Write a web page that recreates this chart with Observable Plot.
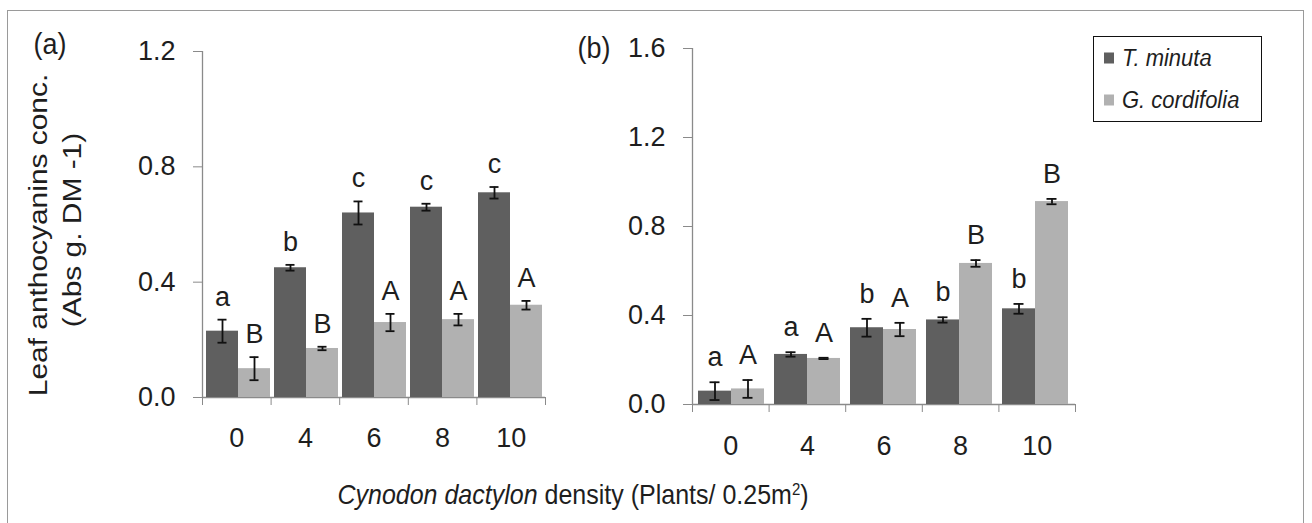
<!DOCTYPE html>
<html><head><meta charset="utf-8">
<script src="https://cdn.jsdelivr.net/npm/d3@7"></script>
<script src="https://cdn.jsdelivr.net/npm/@observablehq/plot@0.6"></script>
<style>
html,body{margin:0;padding:0;overflow:hidden;background:#fff;}
body{width:1312px;height:523px;position:relative;font-family:"Liberation Sans",Arial,sans-serif;color:#1e1e1e;}
#frame{position:absolute;left:7px;top:10px;width:1297px;height:560px;border:1px solid #9a9a9a;box-sizing:border-box;}
.abs{position:absolute;}
.ctr{position:absolute;white-space:nowrap;}
#legend{position:absolute;left:1093px;top:36px;width:169px;height:86px;border:1.5px solid #111;box-sizing:border-box;background:#fff;font-size:22px;font-style:italic;}
#legend .item{position:absolute;left:10px;display:flex;align-items:center;gap:8px;white-space:nowrap;transform:scaleY(1.1);transform-origin:left center;}
#legend .sw{width:10px;height:10px;display:inline-block;}
</style></head><body>
<div id="frame"></div>
<div id="pa-axes" class="abs" style="left:0;top:0"></div>
<div id="pa-bars" class="abs" style="left:0;top:0"></div>
<div id="pb-axes" class="abs" style="left:560px;top:0"></div>
<div id="pb-bars" class="abs" style="left:560px;top:0"></div>
<div id="texts"></div>
<div id="legend"></div>
<script>
// ---- data ----
const densities = ["0", "4", "6", "8", "10"];          // x tick labels
const seriesNames = ["T. minuta", "G. cordifolia"];
const barColors = ["#5f5f5f", "#b1b1b1"];

// panel (a)
const aTminuta      = [0.23, 0.45, 0.64, 0.66, 0.71];
const aTminutaErr   = [0.04, 0.01, 0.04, 0.012, 0.02];
const aTminutaLet   = ["a", "b", "c", "c", "c"];
const aGcord        = [0.10, 0.17, 0.26, 0.27, 0.32];
const aGcordErr     = [0.04, 0.006, 0.03, 0.02, 0.015];
const aGcordLet     = ["B", "B", "A", "A", "A"];
const aYTicks       = [0, 0.4, 0.8, 1.2];

// panel (b)
const bTminuta      = [0.06, 0.225, 0.345, 0.38, 0.43];
const bTminutaErr   = [0.04, 0.01, 0.04, 0.012, 0.022];
const bTminutaLet   = ["a", "a", "b", "b", "b"];
const bGcord        = [0.07, 0.207, 0.337, 0.634, 0.912];
const bGcordErr     = [0.04, 0.003, 0.03, 0.015, 0.012];
const bGcordLet     = ["A", "A", "A", "B", "B"];
const bYTicks       = [0, 0.4, 0.8, 1.2, 1.6];

const yTitle1 = "Leaf anthocyanins conc.";
const yTitle2 = "(Abs g. DM -1)";

// ---- helpers ----
const FONT = "'Liberation Sans', Arial, sans-serif";
const AXIS = "#8a8a8a";
const INK = "#1e1e1e";
const FS = 27;

function rowsFor(tv, te, tl, gv, ge, gl) {
  const rows = [];
  densities.forEach((d, i) => {
    rows.push({density: d, series: seriesNames[0], value: tv[i], err: te[i], letter: tl[i]});
    rows.push({density: d, series: seriesNames[1], value: gv[i], err: ge[i], letter: gl[i]});
  });
  return rows;
}
const hi = d => d.value + d.err;
const lo = d => d.value - d.err;

function dims(c) {
  return {width: c.width, height: c.height, marginLeft: c.ml, marginRight: c.mr, marginTop: c.mt, marginBottom: c.mb};
}

function barsPlot(c) {
  return Plot.plot({
    ...dims(c),
    style: {background: "transparent", fontFamily: FONT, fontSize: FS + "px", color: INK, overflow: "visible"},
    fx: {domain: densities, paddingInner: c.pad, paddingOuter: c.pad / 2, axis: null, label: null},
    x: {domain: seriesNames, padding: 0, axis: null},
    y: {domain: [0, c.yMax], axis: null},
    color: {domain: seriesNames, range: barColors},
    marks: [
      Plot.barY(c.rows, {fx: "density", x: "series", y: "value", fill: "series"}),
      Plot.ruleX(c.rows, {fx: "density", x: "series", y1: lo, y2: hi, stroke: "#111", strokeWidth: 1.8}),
      Plot.tickY(c.rows, {fx: "density", x: "series", y: hi, insetLeft: c.cap, insetRight: c.cap, stroke: "#111", strokeWidth: 1.8}),
      Plot.tickY(c.rows, {fx: "density", x: "series", y: lo, insetLeft: c.cap, insetRight: c.cap, stroke: "#111", strokeWidth: 1.8}),
      Plot.text(c.rows, {fx: "density", x: "series", y: hi, text: "letter", lineAnchor: "bottom", dy: c.ldy, fontSize: FS, fill: INK})
    ]
  });
}

function axesPlot(c) {
  const n = densities.length;
  const bounds = d3.range(n + 1);                 // category band boundaries (band-index units)
  const centers = densities.map((d, i) => i + 0.5);
  return Plot.plot({
    ...dims(c),
    style: {background: "transparent", fontFamily: FONT, fontSize: FS + "px", color: INK, overflow: "visible"},
    x: {domain: [0, n], axis: null},
    y: {domain: [0, c.yMax], axis: null},
    marks: [
      Plot.ruleX([0], {stroke: AXIS, strokeWidth: 1.3}),
      Plot.ruleY([0], {stroke: AXIS, strokeWidth: 1.3}),
      Plot.axisY({ticks: c.yTicks, tickFormat: d3.format(".1f"), tickSize: 9, tickPadding: 18, stroke: AXIS, fontSize: FS, label: null}),
      Plot.axisX({ticks: bounds, tickFormat: () => "", tickSize: 8, stroke: AXIS, label: null}),
      Plot.axisX({ticks: centers, tickFormat: v => densities[Math.floor(v)], tickSize: 0, tickPadding: c.xpad, fontSize: FS, label: null})
    ]
  });
}

const cfgA = {width: 560, height: 523, ml: 202, mr: 15, mt: 51, mb: 126, yMax: 1.2, yTicks: aYTicks,
  pad: 0.06, cap: 11.5, ldy: -14, xpad: 30,
  rows: rowsFor(aTminuta, aTminutaErr, aTminutaLet, aGcord, aGcordErr, aGcordLet)};
const cfgB = {width: 752, height: 523, ml: 132, mr: 237, mt: 48, mb: 119, yMax: 1.6, yTicks: bYTicks,
  pad: 0.13, cap: 11.5, ldy: -16, xpad: 31,
  rows: rowsFor(bTminuta, bTminutaErr, bTminutaLet, bGcord, bGcordErr, bGcordLet)};

document.getElementById("pa-axes").append(axesPlot(cfgA));
document.getElementById("pa-bars").append(barsPlot(cfgA));
document.getElementById("pb-axes").append(axesPlot(cfgB));
document.getElementById("pb-bars").append(barsPlot(cfgB));

// ---- texts ----
const texts = document.getElementById("texts");
function place(html, x, y, size, extra) {
  const el = document.createElement("div");
  el.className = "ctr";
  el.style.left = x + "px";
  el.style.top = y + "px";
  el.style.fontSize = size + "px";
  el.style.transform = "translate(-50%,-50%) " + (extra || "");
  el.innerHTML = html;
  texts.append(el);
}
place("(a)", 50, 44, 27, "scaleY(1.12)");
place("(b)", 594, 48, 27, "scaleY(1.12)");
place(yTitle1, 38, 235, 26, "rotate(-90deg) scaleX(1.15)");
place(yTitle2, 72, 230, 26, "rotate(-90deg) scaleX(1.15)");
place("<i>Cynodon dactylon</i> density (Plants/ 0.25m<sup style='font-size:15px;vertical-align:8px'>2</sup>)", 573, 494, 25, "scaleY(1.12)");

// ---- legend ----
const legend = document.getElementById("legend");
seriesNames.forEach((s, i) => {
  const it = document.createElement("div");
  it.className = "item";
  it.style.top = (i === 0 ? 8 : 50) + "px";
  it.innerHTML = `<span class="sw" style="background:${barColors[i]}"></span><span>${s}</span>`;
  legend.append(it);
});
</script>
</body></html>
